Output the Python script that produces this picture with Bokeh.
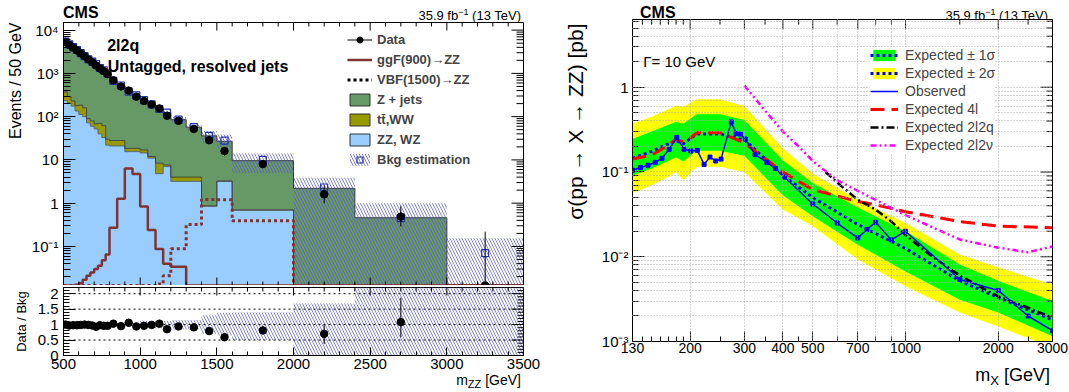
import math
from bokeh.plotting import figure
from bokeh.layouts import row, column
from bokeh.models import (FixedTicker, Span, Label, Legend, LegendItem, Range1d, Div, Title)
from bokeh.embed import file_html
from bokeh.resources import INLINE

FONT = "Liberation Sans"

# ---------------- left panel data (events / 50 GeV) ----------------
bin_edges = [500, 525, 550, 575, 600, 625, 650, 675, 700, 725, 750, 775,
             800, 850, 900, 950, 1000, 1050, 1100, 1150,
             1200, 1300, 1400, 1500, 1600, 2000, 2400, 3000, 3500]
data_obs = [5300, 4550, 3950, 3400, 2900, 2500, 2100, 1800, 1520, 1300, 1130, 960,
            690, 500, 400, 290, 230, 190, 155, 105,
            80, 52, 28.5, 16, 8.0, 1.6, 0.49, 0]
data_err_up = [100, 95, 90, 80, 75, 70, 65, 60, 55, 50, 48, 44,
               26, 22, 20, 17, 15, 14, 12, 10,
               6, 5, 4, 3.5, 1.6, 1.0, 0.36, 0.22]
data_err_dn = [100, 95, 90, 80, 75, 70, 65, 60, 55, 50, 48, 44,
               26, 22, 20, 17, 15, 14, 12, 10,
               6, 5, 4, 3.3, 1.5, 0.6, 0.2, 0]
zz_wz = [235, 205, 175, 135, 112, 100, 72, 60, 52, 40, 33, 22,
         21, 21, 15.5, 15.5, 14.5, 11, 4.8, 7.0,
         3.2, 3.2, 0.85, 3.2, 0.69, 0, 0, 0]
tt_ww = [135, 85, 55, 45, 73, 60, 18, 20, 16, 30, 29, 8,
         7, 7, 3, 3, 2.5, 1, 3.6, 0.6,
         0.8, 0.8, 0.02, 0.05, 0.01, 0, 0, 0]
z_jets = [5030, 4410, 3820, 3290, 2745, 2340, 2030, 1780, 1562, 1260, 1118, 970,
          642, 497, 361.5, 291.5, 223, 180, 141.6, 116.4,
          81, 53, 35.1, 23.75, 8.9, 2.2, 0.46, 0]
bkg_est = [5400, 4700, 4050, 3470, 2930, 2500, 2120, 1860, 1630, 1330, 1180, 1000,
           670, 525, 380, 310, 240, 192, 150, 124,
           85, 57, 36, 28, 10.0, 2.3, 0.45, 0.07]
band_lo = [0.97, 0.97, 0.97, 0.97, 0.97, 0.97, 0.97, 0.97, 0.97, 0.97, 0.97, 0.97,
           0.94, 0.94, 0.94, 0.94, 0.88, 0.88, 0.88, 0.88,
           0.85, 0.85, 0.70, 0.65, 0.50, 0.0, 0.0, 0.0]
band_hi = [1.03, 1.03, 1.03, 1.03, 1.03, 1.03, 1.03, 1.03, 1.03, 1.03, 1.03, 1.03,
           1.06, 1.06, 1.06, 1.06, 1.12, 1.12, 1.12, 1.12,
           1.15, 1.15, 1.30, 1.38, 1.40, 1.68, 2.2, 2.2]
ggf900 = [0, 0, 0, 0.013, 0.014, 0.017, 0.021, 0.025, 0.03, 0.036, 0.048, 0.065,
          0.27, 1.26, 6.3, 4.7, 0.84, 0.24, 0.087, 0.04,
          0.034, 0, 0, 0, 0, 0, 0, 0]
vbf1500 = [0, 0, 0, 0, 0, 0, 0, 0, 0, 0, 0, 0,
           0, 0, 0, 0, 0, 0, 0.0135, 0.021,
           0.088, 0.32, 1.22, 1.2, 0.39, 0, 0, 0]
ratio = [1.00, 0.97, 0.98, 0.98, 0.99, 1.00, 0.99, 0.97, 0.93, 0.98, 0.96, 0.96,
         1.03, 0.95, 1.06, 0.94, 0.96, 0.99, 1.03, 0.85,
         0.94, 0.91, 0.79, 0.59, 0.81, 0.70, 1.08]
ratio_err_up = [0.02, 0.02, 0.02, 0.02, 0.02, 0.02, 0.02, 0.02, 0.02, 0.02, 0.02, 0.02,
                0.03, 0.03, 0.04, 0.04, 0.05, 0.05, 0.06, 0.07,
                0.06, 0.07, 0.08, 0.10, 0.12, 0.30, 0.79]
ratio_err_dn = [0.02, 0.02, 0.02, 0.02, 0.02, 0.02, 0.02, 0.02, 0.02, 0.02, 0.02, 0.02,
                0.03, 0.03, 0.04, 0.04, 0.05, 0.05, 0.06, 0.07,
                0.06, 0.07, 0.08, 0.10, 0.12, 0.33, 0.49]

# ---------------- right panel data ----------------
m_exp = [130, 150, 170, 180, 190, 210, 250, 300, 400, 500, 700, 1000, 1500, 2000, 3000]
exp_med = [0.145, 0.175, 0.215, 0.235, 0.215, 0.28, 0.28, 0.24, 0.092, 0.05, 0.024, 0.0125, 0.0052, 0.0033, 0.0018]
exp_p2 = [0.37, 0.45, 0.55, 0.61, 0.59, 0.72, 0.72, 0.60, 0.19, 0.096, 0.047, 0.025, 0.0106, 0.0075, 0.0047]
exp_p1 = [0.245, 0.30, 0.36, 0.39, 0.37, 0.48, 0.48, 0.41, 0.138, 0.074, 0.038, 0.020, 0.0081, 0.0052, 0.0030]
exp_m1 = [0.09, 0.11, 0.135, 0.149, 0.133, 0.178, 0.178, 0.155, 0.053, 0.030, 0.0139, 0.0067, 0.0031, 0.0022, 0.00115]
exp_m2 = [0.056, 0.07, 0.088, 0.10, 0.08, 0.115, 0.115, 0.10, 0.036, 0.023, 0.0093, 0.0045, 0.0022, 0.0015, 0.00085]
obs_m = [130, 138, 146, 154, 162, 171, 181, 191, 201, 211, 222, 232, 242, 252, 272, 282, 291, 302,
         325, 355, 378, 405, 500, 600, 700, 750, 800, 900, 1000, 1500, 2000, 2500, 3000]
obs_v = [0.105, 0.113, 0.12, 0.13, 0.145, 0.185, 0.256, 0.185, 0.177, 0.18, 0.123, 0.15, 0.135, 0.142,
         0.39, 0.285, 0.28, 0.245, 0.16, 0.13, 0.11, 0.087, 0.042, 0.025, 0.0167, 0.021, 0.0255,
         0.0158, 0.02, 0.0054, 0.004, 0.002, 0.00134]
m_4l = [130, 150, 170, 180, 190, 200, 210, 250, 270, 300, 400, 500, 700, 800, 1000, 1500, 2000, 3000]
v_4l = [0.142, 0.158, 0.208, 0.243, 0.227, 0.25, 0.29, 0.29, 0.26, 0.22, 0.10, 0.062, 0.045, 0.041,
        0.034, 0.026, 0.023, 0.022]
m_2l2q = [550, 600, 700, 800, 900, 1000, 1200, 1500, 2000, 2500, 3000]
v_2l2q = [0.10, 0.075, 0.047, 0.036, 0.026, 0.018, 0.0105, 0.006, 0.0034, 0.0025, 0.0019]
m_2l2v = [300, 350, 400, 450, 500, 600, 700, 800, 1000, 1500, 2000, 2500, 3000]
v_2l2v = [1.05, 0.53, 0.30, 0.20, 0.135, 0.08, 0.06, 0.047, 0.031, 0.016, 0.0128, 0.0113, 0.0132]

# ---------------- colours ----------------
C_ZJ = "#669966"
C_TT = "#999900"
C_ZZ = "#99ccff"
C_SIG = "#7f3333"
C_HATCH = "#5a5ac8"
C_OUT = "#333333"

FLOOR = 0.0125
YTOP = 15000


def fl(v):
    return [max(x, FLOOR) for x in v]


def steps(vals):
    xs, ys = [], []
    for i, v in enumerate(vals):
        xs += [bin_edges[i], bin_edges[i + 1]]
        ys += [v, v]
    return xs, ys


def log_minors(lo_exp, hi_exp):
    out = []
    for e in range(lo_exp, hi_exp + 1):
        for k in range(2, 10):
            out.append(k * 10.0 ** e)
    return out


def style_axis(ax, fs="14px", tin=10, mtin=5, standoff=4):
    ax.major_tick_in = tin
    ax.major_tick_out = 0
    ax.minor_tick_in = mtin
    ax.minor_tick_out = 0
    ax.axis_line_color = "black"
    ax.major_tick_line_color = "black"
    ax.minor_tick_line_color = "black"
    ax.major_label_text_font = FONT
    ax.major_label_text_color = "black"
    ax.major_label_text_font_size = fs
    ax.major_label_standoff = standoff


def shift(lo, hi, px, span_px, log, from_hi):
    if log:
        d = px * math.log10(hi / lo) / span_px
        return hi / 10 ** d if from_hi else lo * 10 ** d
    d = px * (hi - lo) / span_px
    return hi - d if from_hi else lo + d


def edge_ticks(p, side, ticks, length, xr, yr, xlog, ylog, fw, fh):
    """inward tick marks on a frame side that has no labelled axis"""
    if side == "right":
        x0 = shift(xr[0], xr[1], length, fw, xlog, True)
        p.segment(x0=[x0] * len(ticks), x1=[xr[1]] * len(ticks), y0=ticks, y1=ticks,
                  line_color="black", line_width=1)
    else:
        if side == "top":
            y0 = shift(yr[0], yr[1], length, fh, ylog, True)
            y1 = yr[1]
        else:
            y0 = yr[0]
            y1 = shift(yr[0], yr[1], length, fh, ylog, False)
        p.segment(x0=ticks, x1=ticks, y0=[y0] * len(ticks), y1=[y1] * len(ticks),
                  line_color="black", line_width=1)


def lab(p, x, y, text, size, bold=False):
    p.add_layout(Label(x=x, y=y, x_units="screen", y_units="screen", text=text,
                       text_font=FONT, text_font_size=size,
                       text_font_style="bold" if bold else "normal",
                       text_align="left", text_baseline="alphabetic", text_color="black"))


def side_title(p, text, size, align, standoff, offset=0):
    p.add_layout(Title(text=text, align=align, text_font=FONT, text_font_size=size,
                       text_font_style="normal", text_color="black",
                       standoff=standoff, offset=offset), "left")


def html_box(w, h, spans):
    inner = "".join(spans)
    return Div(width=w, height=h, margin=(0, 0, 0, 0),
               text=('<div style="position:relative;width:%dpx;height:%dpx;'
                     'font-family:\'Liberation Sans\',Arial,sans-serif;color:#000;">%s</div>'
                     % (w, h, inner)))


def span(text, size, pos, bold=False, lh=None):
    lh = lh if lh is not None else size
    return ('<span style="position:absolute;white-space:nowrap;%s;font-size:%dpx;line-height:%dpx;'
            'font-weight:%s;">%s</span>' % (pos, size, lh, "bold" if bold else "normal", text))


lefts = bin_edges[:-1]
rights = bin_edges[1:]
centers = [(a + b) / 2 for a, b in zip(lefts, rights)]
nb = len(lefts)
top_zz = list(zz_wz)
top_tt = [a + b for a, b in zip(zz_wz, tt_ww)]
top_all = [a + b for a, b in zip(top_tt, z_jets)]

# ================= LEFT MAIN =================
FW1, FH1 = 460, 263
p1 = figure(width=540, height=264, x_range=Range1d(500, 3500), y_range=Range1d(FLOOR, YTOP),
            y_axis_type="log", output_backend="svg", toolbar_location=None,
            min_border_left=63, min_border_right=17, min_border_top=1, min_border_bottom=0)
p1.xgrid.visible = False
p1.ygrid.visible = False
p1.outline_line_color = "black"
p1.background_fill_color = "white"

y1_major = [0.1, 1, 10, 100, 1000, 10000]
y1_minor = [v for v in log_minors(-2, 4) if FLOOR < v < YTOP]
y1_ticker = FixedTicker(ticks=y1_major, minor_ticks=y1_minor)
x1_major = [500, 1000, 1500, 2000, 2500, 3000, 3500]
x1_minor = [v for v in range(600, 3500, 100) if v % 500]
x1_ticker = FixedTicker(ticks=x1_major, minor_ticks=list(range(500, 3501, 100)))
p1.yaxis.ticker = y1_ticker
p1.yaxis.major_label_overrides = {0.1: "10⁻¹", 1: "1", 10: "10", 100: "10²", 1000: "10³", 10000: "10⁴"}
style_axis(p1.yaxis[0], "15px", 12, 7, 5)
p1.xaxis.visible = False
side_title(p1, "Events / 50 GeV", "16px", "right", 9)

# stacked backgrounds (step-shaped areas)
base = [FLOOR] * nb
xs, yb = steps(base)
_, yz = steps(fl(top_zz))
_, yt = steps(fl(top_tt))
_, ya = steps(fl(top_all))
p1.varea(x=xs, y1=yb, y2=yz, fill_color=C_ZZ)
p1.varea(x=xs, y1=yz, y2=yt, fill_color=C_TT)
p1.varea(x=xs, y1=yt, y2=ya, fill_color=C_ZJ)
p1.line(xs, yz, line_color="#556677", line_width=1)
p1.line(xs, yt, line_color=C_OUT, line_width=1, line_alpha=0.8)
p1.line(xs, ya, line_color=C_OUT, line_width=1)

# uncertainty band
_, bl = steps(fl([b * l for b, l in zip(bkg_est, band_lo)]))
_, bh = steps(fl([b * h for b, h in zip(bkg_est, band_hi)]))
p1.varea(x=xs, y1=bl, y2=bh, fill_alpha=0, hatch_pattern="\\", hatch_color=C_HATCH,
         hatch_alpha=0.75, hatch_scale=6, hatch_weight=1)

# signals
_, ys = steps(fl(ggf900))
p1.line(xs, ys, line_color=C_SIG, line_width=2.5)
_, ys = steps(fl(vbf1500))
p1.line(xs, ys, line_color=C_SIG, line_width=3, line_dash="3 3")

# bkg estimation squares
p1.scatter(centers, bkg_est, marker="square", size=7, fill_alpha=0, line_color="#2233aa", line_width=1.2)

# data
p1.segment(x0=centers, x1=centers,
           y0=fl([d - e for d, e in zip(data_obs, data_err_dn)]),
           y1=fl([d + e for d, e in zip(data_obs, data_err_up)]),
           line_color="black", line_width=1)
p1.scatter(centers, fl(data_obs), marker="circle", size=7.5, color="black")

xr1, yr1 = (500, 3500), (FLOOR, YTOP)
edge_ticks(p1, "right", y1_major, 12, xr1, yr1, False, True, FW1, FH1)
edge_ticks(p1, "right", y1_minor, 7, xr1, yr1, False, True, FW1, FH1)
edge_ticks(p1, "top", x1_major, 8, xr1, yr1, False, True, FW1, FH1)
edge_ticks(p1, "top", x1_minor, 4, xr1, yr1, False, True, FW1, FH1)
edge_ticks(p1, "bottom", x1_major, 8, xr1, yr1, False, True, FW1, FH1)
edge_ticks(p1, "bottom", x1_minor, 4, xr1, yr1, False, True, FW1, FH1)

# legend (dummy renderers, outside the visible range, for the legend symbols)
lg_dl = p1.line(x=[0], y=[1e-9], line_color="black", line_width=1)
lg_dm = p1.scatter(x=[0], y=[1e-9], marker="circle", size=7, color="black")
lg_ggf = p1.line(x=[0], y=[1e-9], line_color=C_SIG, line_width=2.5)
lg_vbf = p1.line(x=[0], y=[1e-9], line_color="black", line_width=3, line_dash="3 3")
lg_zj = p1.quad(left=[0], right=[1], top=[1e-9], bottom=[1e-10], fill_color=C_ZJ, line_color=C_OUT, line_width=1)
lg_tt = p1.quad(left=[0], right=[1], top=[1e-9], bottom=[1e-10], fill_color=C_TT, line_color=C_OUT, line_width=1)
lg_zz = p1.quad(left=[0], right=[1], top=[1e-9], bottom=[1e-10], fill_color=C_ZZ, line_color=C_OUT, line_width=1)
lg_bh = p1.quad(left=[0], right=[1], top=[1e-9], bottom=[1e-10], fill_alpha=0, line_color=None,
                hatch_pattern="\\", hatch_color=C_HATCH, hatch_alpha=0.75, hatch_scale=6, hatch_weight=1)
lg_bs = p1.scatter(x=[0], y=[1e-9], marker="square", size=7, fill_alpha=0, line_color="#2233aa", line_width=1.2)
leg1 = Legend(items=[
    LegendItem(label="Data", renderers=[lg_dl, lg_dm], index=0),
    LegendItem(label="ggF(900)→ZZ", renderers=[lg_ggf], index=0),
    LegendItem(label="VBF(1500)→ZZ", renderers=[lg_vbf], index=0),
    LegendItem(label="Z + jets", renderers=[lg_zj], index=0),
    LegendItem(label="tt\u0304,WW", renderers=[lg_tt], index=0),
    LegendItem(label="ZZ, WZ", renderers=[lg_zz], index=0),
    LegendItem(label="Bkg estimation", renderers=[lg_bh, lg_bs], index=0),
], location=(284, 118))
leg1.label_text_font = FONT
leg1.label_text_font_size = "13px"
leg1.label_text_font_style = "bold"
leg1.glyph_width = 25
leg1.glyph_height = 15
leg1.label_height = 15
leg1.spacing = 5
leg1.padding = 0
leg1.margin = 0
leg1.label_standoff = 5
leg1.border_line_alpha = 0
leg1.background_fill_alpha = 0
p1.add_layout(leg1)

lab(p1, 43.7, 240, "2l2q", "16px", bold=True)
lab(p1, 44.3, 219, "Untagged, resolved jets", "16px", bold=True)

# ================= LEFT RATIO =================
FW2, FH2 = 460, 68
p2 = figure(width=540, height=90, x_range=p1.x_range, y_range=Range1d(0, 2.2),
            output_backend="svg", toolbar_location=None,
            min_border_left=63, min_border_right=17, min_border_top=2, min_border_bottom=20)
p2.xgrid.visible = False
p2.ygrid.visible = False
p2.outline_line_color = "black"
y2_major = [0, 0.5, 1, 1.5, 2]
y2_minor = [i / 10 for i in range(1, 22) if i % 5]
y2_ticker = FixedTicker(ticks=y2_major, minor_ticks=[i / 10 for i in range(0, 23)])
p2.yaxis.ticker = y2_ticker
p2.yaxis.major_label_overrides = {0: "0", 0.5: "0.5", 1: "1", 1.5: "1.5", 2: "2"}
style_axis(p2.yaxis[0], "15px", 12, 6, 5)
p2.xaxis.ticker = x1_ticker
style_axis(p2.xaxis[0], "15px", 8, 4, 3)
side_title(p2, "Data / Bkg", "13px", "center", 12)

_, rl = steps(band_lo)
_, rh = steps(band_hi)
p2.varea(x=xs, y1=rl, y2=rh, fill_alpha=0, hatch_pattern="\\", hatch_color=C_HATCH,
         hatch_alpha=0.75, hatch_scale=6, hatch_weight=1)
for yv in [0.5, 1.0, 1.5, 2.0]:
    p2.add_layout(Span(location=yv, dimension="width", line_color="black",
                       line_dash="2 3", line_width=1))
nr = len(ratio)
p2.segment(x0=centers[:nr], x1=centers[:nr],
           y0=[r - e for r, e in zip(ratio, ratio_err_dn)],
           y1=[r + e for r, e in zip(ratio, ratio_err_up)], line_color="black", line_width=1)
p2.scatter(centers[:nr], ratio, marker="circle", size=7.5, color="black")
xr2, yr2 = (500, 3500), (0, 2.2)
edge_ticks(p2, "right", y2_major, 12, xr2, yr2, False, False, FW2, FH2)
edge_ticks(p2, "right", y2_minor, 6, xr2, yr2, False, False, FW2, FH2)
edge_ticks(p2, "top", x1_major, 8, xr2, yr2, False, False, FW2, FH2)
edge_ticks(p2, "top", x1_minor, 4, xr2, yr2, False, False, FW2, FH2)

# ================= RIGHT =================
FW3, FH3 = 420, 322
X3, Y3 = (130, 3000), (1e-3, 6.3)
p3 = figure(width=529, height=341, x_range=Range1d(*X3), y_range=Range1d(*Y3),
            x_axis_type="log", y_axis_type="log", output_backend="svg", toolbar_location=None,
            min_border_left=92, min_border_right=17, min_border_top=1, min_border_bottom=18)
p3.outline_line_color = "black"
x3_major = [130, 200, 300, 400, 500, 700, 1000, 2000, 3000]
x3_minor = [140, 150, 160, 170, 180, 190, 250, 350, 450, 600, 800, 900, 1500, 2500]
x3_ticker = FixedTicker(ticks=x3_major, minor_ticks=x3_minor)
y3_major = [0.001, 0.01, 0.1, 1]
y3_minor = [v for v in log_minors(-3, 0) if v < 6.3]
y3_ticker = FixedTicker(ticks=y3_major, minor_ticks=y3_minor)
p3.xaxis.ticker = x3_ticker
p3.xaxis.major_label_overrides = {v: str(v) for v in x3_major}
style_axis(p3.xaxis[0], "14px", 10, 5, 1)
p3.yaxis.ticker = y3_ticker
p3.yaxis.major_label_overrides = {0.001: "10⁻³", 0.01: "10⁻²", 0.1: "10⁻¹", 1: "1"}
style_axis(p3.yaxis[0], "15px", 12, 6, 4)
side_title(p3, "σ(pp → X → ZZ) [pb]", "21px", "right", 24, 4)

p3.xgrid.ticker = FixedTicker(ticks=[200, 300, 400, 500, 600, 700, 800, 900, 1000, 2000, 3000])
p3.ygrid.ticker = FixedTicker(ticks=y3_major + y3_minor)
for g in (p3.xgrid[0], p3.ygrid[0]):
    g.grid_line_color = "#aaaaaa"
    g.grid_line_dash = "1 2"
    g.grid_line_width = 1
    g.level = "annotation"

r_y = p3.varea(x=m_exp, y1=exp_m2, y2=exp_p2, fill_color="#ffff00")
r_g = p3.varea(x=m_exp, y1=exp_m1, y2=exp_p1, fill_color="#00ff00")
r_e = p3.line(m_exp, exp_med, line_color="#0000ff", line_width=3, line_dash="3 3")
r_4l = p3.line(m_4l, v_4l, line_color="#ff0000", line_width=3, line_dash="14 7")
r_2q = p3.line(m_2l2q, v_2l2q, line_color="black", line_width=2.5, line_dash="8 3 2 3")
r_2v = p3.line(m_2l2v, v_2l2v, line_color="#ff00ff", line_width=2.5, line_dash="6 3 2 3 2 3")
r_o = p3.line(obs_m, obs_v, line_color="#0000ff", line_width=1.5)
p3.scatter(obs_m, obs_v, marker="square", size=4, color="#0000ff")

edge_ticks(p3, "right", y3_major, 12, X3, Y3, True, True, FW3, FH3)
edge_ticks(p3, "right", y3_minor, 6, X3, Y3, True, True, FW3, FH3)
edge_ticks(p3, "top", x3_major, 10, X3, Y3, True, True, FW3, FH3)
edge_ticks(p3, "top", x3_minor, 5, X3, Y3, True, True, FW3, FH3)

leg3 = Legend(items=[
    LegendItem(label="Expected ± 1σ", renderers=[r_g, r_e]),
    LegendItem(label="Expected ± 2σ", renderers=[r_y, r_e]),
    LegendItem(label="Observed", renderers=[r_o]),
    LegendItem(label="Expected 4l", renderers=[r_4l]),
    LegendItem(label="Expected 2l2q", renderers=[r_2q]),
    LegendItem(label="Expected 2l2ν", renderers=[r_2v]),
], location=(238, 188))
leg3.label_text_font = FONT
leg3.label_text_font_size = "14px"
leg3.glyph_width = 28
leg3.glyph_height = 14
leg3.label_height = 14
leg3.spacing = 2
leg3.padding = 0
leg3.margin = 0
leg3.label_standoff = 7
leg3.border_line_alpha = 0
leg3.background_fill_color = "white"
leg3.background_fill_alpha = 1
p3.add_layout(leg3)

lab(p3, 10.7, 280, "Γ= 10 GeV", "15px")

# ================= header / footer texts =================
lumi = "35.9 fb<sup style=\"font-size:9px;\">&minus;1</sup> (13 TeV)"
div_tl = html_box(540, 21, [span("CMS", 16, "left:63px;top:5px", bold=True),
                            span(lumi, 13, "right:19px;top:6px")])
div_tr = html_box(529, 18, [span("CMS", 16, "left:100px;top:5px", bold=True),
                            span(lumi, 13, "right:21px;top:6px")])
div_bl = html_box(540, 17, [span("m<sub style=\"font-size:11px;vertical-align:-3px;\">ZZ</sub> [GeV]",
                                 14, "right:19px;top:0px", lh=10)])
div_br = html_box(529, 33, [span("m<sub style=\"font-size:13px;vertical-align:-4px;\">X</sub> [GeV]",
                                 18, "right:19px;top:7px")])

layout = row(column(div_tl, p1, p2, div_bl), column(div_tr, p3, div_br))
open("out.html", "w").write(file_html(layout, INLINE))
